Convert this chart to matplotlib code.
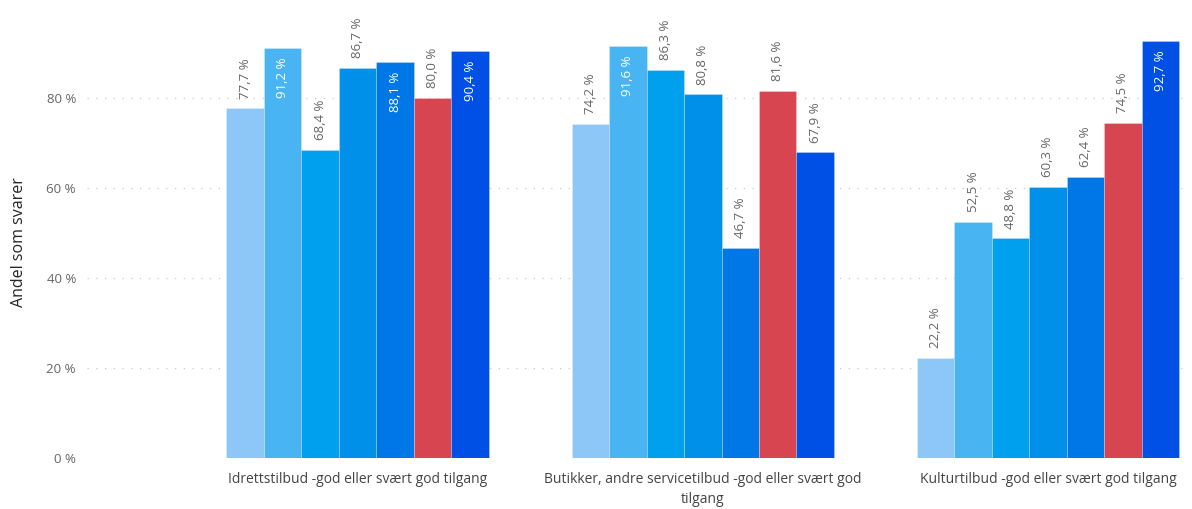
import matplotlib
matplotlib.use("Agg")
import matplotlib.pyplot as plt
import numpy as np

categories = [
    "Idrettstilbud -god eller svært god tilgang",
    "Butikker, andre servicetilbud -god eller svært god\ntilgang",
    "Kulturtilbud -god eller svært god tilgang",
]
series_values = [
    [77.7, 74.2, 22.2],
    [91.2, 91.6, 52.5],
    [68.4, 86.3, 48.8],
    [86.7, 80.8, 60.3],
    [88.1, 46.7, 62.4],
    [80.0, 81.6, 74.5],
    [90.4, 67.9, 92.7],
]
colors = ["#8CC7F7", "#48B4F2", "#00A0EE", "#0090EA", "#0077E6", "#D64550", "#0050E6"]
yticks = [0, 20, 40, 60, 80]
ytick_labels = ["0 %", "20 %", "40 %", "60 %", "80 %"]

plt.rcParams['font.family'] = ['Open Sans', 'DejaVu Sans']

fig = plt.figure(figsize=(11.92, 5.09), dpi=100)
ax = fig.add_axes([87/1192, (509-458)/509, (1185-87)/1192, (458-26)/509])

n = len(series_values)
group_w = 0.76
bw = group_w / n
x = np.arange(len(categories))

for i, vals in enumerate(series_values):
    pos = x - group_w/2 + bw*(i + 0.5)
    ax.bar(pos, vals, width=bw, color=colors[i], edgecolor=(1, 1, 1, 0.35), linewidth=0.5, zorder=2)
    for p, v in zip(pos, vals):
        lab = f"{v:.1f} %".replace(".", ",")
        if v > 87.5:
            ax.annotate(lab, (p, v), xytext=(0, -7), textcoords="offset points",
                        rotation=90, ha="center", va="top", color="white", fontsize=9.5, zorder=3)
        else:
            ax.annotate(lab, (p, v), xytext=(0, 7), textcoords="offset points",
                        rotation=90, ha="center", va="bottom", color="#666666", fontsize=9.5, zorder=3)

ax.set_xlim(-0.784, 2.397)
ax.set_ylim(0, 96)
ax.set_yticks(yticks)
ax.set_yticklabels(ytick_labels, color="#666666", fontsize=9.5)
ax.set_xticks(x)
ax.set_xticklabels(categories, color="#444444", fontsize=10, linespacing=1.45)
ax.tick_params(axis="both", length=0)
ax.tick_params(axis="x", pad=10)
ax.tick_params(axis="y", pad=8)
for s in ax.spines.values():
    s.set_visible(False)
ax.grid(axis="y", color="#C8C8C8", linestyle=(0, (1, 6)), linewidth=0.9, zorder=0)
ax.set_axisbelow(True)
ax.set_ylabel("Andel som svarer", fontsize=11.5, color="#252423", labelpad=14)

fig.savefig("out.png", dpi=100)
